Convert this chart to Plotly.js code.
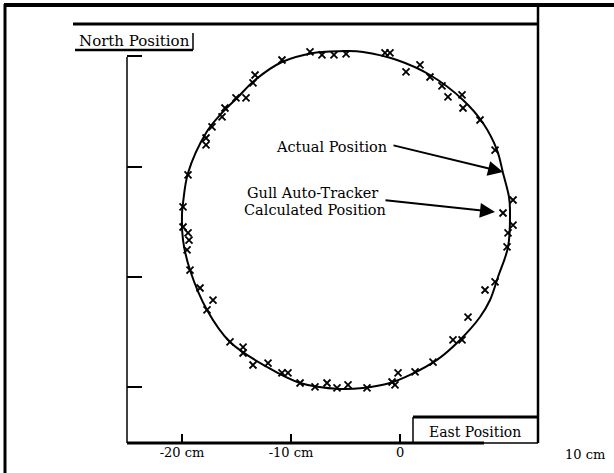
<!DOCTYPE html>
<html><head><meta charset="utf-8">
<script src="https://cdn.plot.ly/plotly-3.0.1.min.js"></script>
<style>html,body{margin:0;padding:0;background:#fff}#chart{width:614px;height:473px}</style>
</head><body><div id="chart"></div>
<script>
// Actual position (solid curve), East / North in cm
const actualEast  = [-7.98,-6.42,-4.86,-3.39,-0.28,2.75,5.78,7.61,8.90,9.45,10.00,10.09,9.91,8.99,8.26,7.34,5.50,3.39,0.92,-0.92,-3.39,-5.50,-9.17,-12.20,-15.60,-17.71,-19.27,-19.91,-20.00,-19.91,-19.45,-17.80,-16.51,-14.95,-13.30,-10.83,-7.98];
const actualNorth = [20.31,20.44,20.49,20.40,19.67,18.31,16.05,13.96,11.51,9.43,7.25,6.07,2.72,0.00,-2.09,-3.63,-5.71,-7.52,-8.88,-9.61,-10.06,-10.15,-9.61,-8.16,-5.89,-2.99,0.63,3.35,5.80,6.71,9.43,13.06,14.69,16.23,17.86,19.49,20.31];

// Gull Auto-Tracker calculated positions (x marks)
const trackerEast  = [-8.26,-7.16,-6.06,-4.95,-10.83,-13.30,-13.49,-15.05,-14.13,-16.06,-16.33,-17.25,-17.80,-17.80,-19.45,-19.91,-19.91,-19.45,-19.36,-19.54,-19.27,-18.35,-17.16,-17.71,-15.60,-14.40,-14.40,-13.49,-12.11,-10.83,-10.28,-9.17,-7.80,-6.70,-5.78,-4.77,-3.03,-0.73,-0.18,-0.46,1.38,3.03,4.86,5.69,6.24,7.80,8.72,9.82,9.91,10.37,9.45,10.37,8.72,7.34,5.78,5.69,4.40,3.85,2.75,0.55,1.83,-1.38,-0.92];
const trackerNorth = [20.40,20.13,20.13,20.22,19.67,18.31,17.59,16.23,16.23,15.32,14.51,13.60,12.60,11.97,9.25,6.35,4.53,3.99,3.35,2.45,0.63,-1.00,-2.09,-2.99,-5.89,-6.35,-6.89,-7.98,-7.80,-8.70,-8.70,-9.61,-9.97,-9.61,-10.06,-9.79,-10.06,-9.52,-8.70,-9.79,-8.61,-7.71,-5.71,-5.71,-3.63,-1.18,-0.45,2.72,3.99,4.71,5.80,6.98,11.51,14.23,15.32,16.50,16.32,17.32,18.13,18.59,19.22,20.31,20.31];

const xTickValues = [-20, -10, 0];
const xTickLabels = ['-20 cm', '-10 cm', '0'];
const yTickValues = [20, 10, 0, -10];

// plot-area pixel box, used to place the frame decorations
const L = 127, R = 538, T = 30, B = 443;
const fx = p => (p - L) / (R - L);
const fy = p => (B - p) / (B - T);
const serif = 'DejaVu Serif, Liberation Serif, serif';

function seg(x0, y0, x1, y1, w) {
  return {type:'line', xref:'paper', yref:'paper', x0:fx(x0), y0:fy(y0), x1:fx(x1), y1:fy(y1),
          line:{color:'#000', width:w}, layer:'above'};
}
function label(text, cx, cy, size) {
  return {text:text, xref:'paper', yref:'paper', x:fx(cx), y:fy(cy), xanchor:'center', yanchor:'middle',
          showarrow:false, font:{family:serif, size:size, color:'#000'}};
}
function arrow(tx, ty, hx, hy) {
  return {text:'', xref:'paper', yref:'paper', x:fx(hx), y:fy(hy), ax:tx-hx, ay:ty-hy,
          showarrow:true, arrowhead:2, arrowsize:1.5, arrowwidth:2, arrowcolor:'#000', standoff:0};
}

const traces = [
  {x: actualEast, y: actualNorth, type:'scatter', mode:'lines',
   line:{color:'#000', width:2, shape:'spline', smoothing:1}, hoverinfo:'skip'},
  {x: trackerEast, y: trackerNorth, type:'scatter', mode:'markers', cliponaxis:false,
   marker:{symbol:'x-thin-open', size:7, color:'#000', line:{color:'#000', width:1.8}}}
];

const layout = {
  width:614, height:473, showlegend:false,
  paper_bgcolor:'#fff', plot_bgcolor:'#fff',
  margin:{l:L, r:614-R, t:T, b:473-B, pad:0},
  font:{family:serif, color:'#000'},
  xaxis:{range:[-25.05, 12.66], showgrid:false, zeroline:false, showline:false,
         tickmode:'array', tickvals:xTickValues, ticktext:xTickLabels,
         ticks:'inside', ticklen:9, tickwidth:1.5, tickcolor:'#000',
         tickfont:{family:serif, size:13, color:'#000'}, fixedrange:true},
  yaxis:{range:[-15.05, 22.39], showgrid:false, zeroline:false, showline:false,
         tickmode:'array', tickvals:yTickValues, showticklabels:false,
         ticks:'inside', ticklen:15, tickwidth:2, tickcolor:'#000', fixedrange:true},
  shapes:[
    seg(4, 5, 614, 5, 4),        // outer top border
    seg(5, 4, 5, 473, 3),        // outer left border
    seg(538, 5, 538, 443, 2.5),  // inner right rule
    seg(73, 24, 538, 24, 3),     // inner top rule
    seg(75, 50, 193, 50, 2.5),   // North Position underline
    seg(193, 33, 193, 50, 1.5),  // North Position right edge
    seg(127, 57, 127, 443, 1.5), // y axis line
    seg(127, 443, 484, 443, 3),  // x axis line
    seg(484, 443, 538, 443, 1.5),// box bottom
    seg(413, 417, 538, 417, 3),  // East Position box top
    seg(413, 417, 413, 443, 1.5) // East Position box left
  ],
  annotations:[
    label('North Position', 134, 41, 15),
    label('East Position', 475, 432, 14),
    label('10 cm', 585, 454, 13),
    label('Actual Position', 331, 147, 14.5),
    label('Gull Auto-Tracker', 312, 193, 14.5),
    label('Calculated Position', 315, 210, 14.5),
    arrow(392, 145, 503, 172),
    arrow(384, 200, 495, 212)
  ]
};

Plotly.newPlot('chart', traces, layout, {displayModeBar:false, staticPlot:true});
</script>
</body></html>
